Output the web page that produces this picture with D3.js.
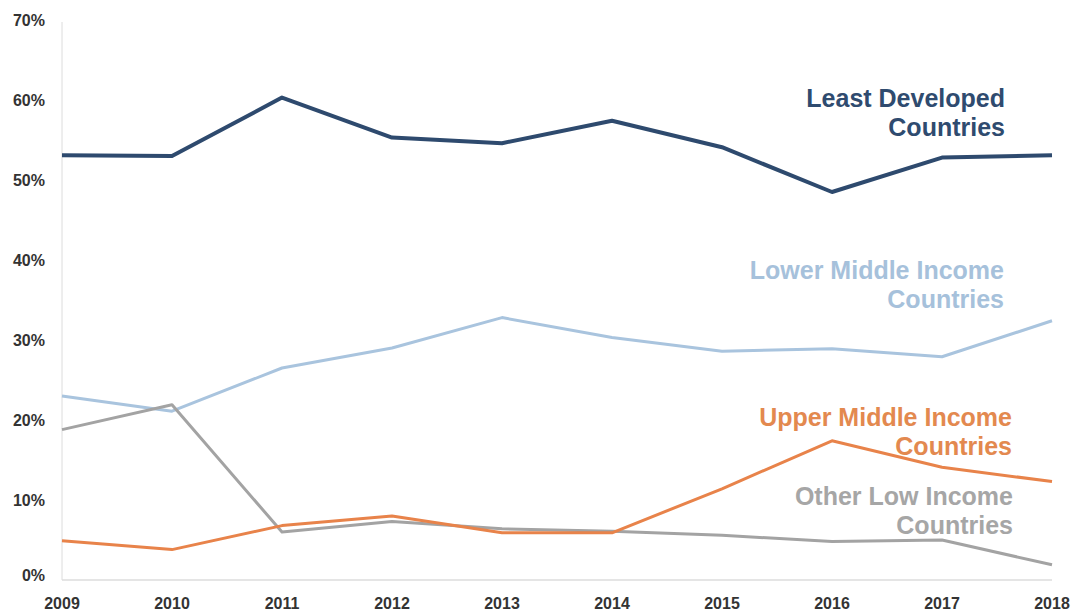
<!DOCTYPE html>
<html>
<head>
<meta charset="utf-8">
<script src="https://cdn.jsdelivr.net/npm/d3@7"></script>
<style>
  body { margin: 0; background: #fff; }
  text { font-family: "Liberation Sans", Arial, sans-serif; font-weight: bold; }
</style>
</head>
<body>
<svg id="chart" width="1077" height="612"></svg>
<script>
"use strict";

// years along the x axis
var years = [2009, 2010, 2011, 2012, 2013, 2014, 2015, 2016, 2017, 2018];

// share of total, percent
var leastDeveloped = [53.1, 53.0, 60.3, 55.3, 54.6, 57.4, 54.1, 48.5, 52.8, 53.1];
var lowerMiddle    = [23.0, 21.1, 26.5, 29.0, 32.8, 30.3, 28.6, 28.9, 27.9, 32.4];
var otherLow       = [18.8, 21.9, 6.0, 7.3, 6.4, 6.1, 5.6, 4.8, 5.0, 1.9];
var upperMiddle    = [4.9, 3.8, 6.8, 8.0, 5.9, 5.9, 11.4, 17.4, 14.1, 12.3];

var yTicks = [0, 10, 20, 30, 40, 50, 60, 70];

var series = [
    {name: ["Least Developed", "Countries"], values: leastDeveloped, color: "#2e4a6e", text: "#2f4b6f", width: 4, lx: 1005, ly: 98},
    {name: ["Lower Middle Income", "Countries"], values: lowerMiddle, color: "#a9c4de", text: "#a6c1db", width: 3, lx: 1004, ly: 270},
    {name: ["Other Low Income", "Countries"], values: otherLow, color: "#a3a3a3", text: "#a6a6a6", width: 3, lx: 1013, ly: 496},
    {name: ["Upper Middle Income", "Countries"], values: upperMiddle, color: "#e8834a", text: "#e3894f", width: 3, lx: 1012, ly: 417}
];

var svg = d3.select("#chart");

var x = d3.scaleLinear().domain([2009, 2018]).range([62, 1052]);
var y = d3.scaleLinear().domain([0, 70]).range([580, 20]);

// axis lines
svg.append("line")
    .attr("x1", x(2009)).attr("x2", x(2009))
    .attr("y1", y(70) + 2).attr("y2", y(0))
    .attr("stroke", "#dcdcdc").attr("stroke-width", 1);
svg.append("line")
    .attr("x1", x(2009)).attr("x2", x(2018))
    .attr("y1", y(0)).attr("y2", y(0))
    .attr("stroke", "#dcdcdc").attr("stroke-width", 1.5);

// y tick labels
svg.append("g").selectAll("text")
    .data(yTicks)
    .enter()
    .append("text")
    .attr("x", 45)
    .attr("y", (d) => y(d) + 6 - (d === 0 ? 5 : 0))
    .attr("text-anchor", "end")
    .attr("font-size", 16)
    .attr("fill", "#333")
    .text((d) => d + "%");

// x tick labels
svg.append("g").selectAll("text")
    .data(years)
    .enter()
    .append("text")
    .attr("x", (d) => x(d))
    .attr("y", 609)
    .attr("text-anchor", "middle")
    .attr("font-size", 16)
    .attr("fill", "#333")
    .text((d) => d);

var line = d3.line()
    .x((d, i) => x(years[i]))
    .y((d) => y(d));

svg.append("g").selectAll("path")
    .data(series)
    .enter()
    .append("path")
    .attr("d", (d) => line(d.values))
    .attr("fill", "none")
    .attr("stroke", (d) => d.color)
    .attr("stroke-width", (d) => d.width)
    .attr("stroke-linejoin", "round");

// series labels
series.forEach((s) => {
    let t = svg.append("text")
        .attr("text-anchor", "end")
        .attr("font-size", 25)
        .attr("fill", s.text);
    s.name.forEach((ln, i) => {
        t.append("tspan")
            .attr("x", s.lx)
            .attr("y", s.ly + 9 + i * 29)
            .text(ln);
    });
});
</script>
</body>
</html>
